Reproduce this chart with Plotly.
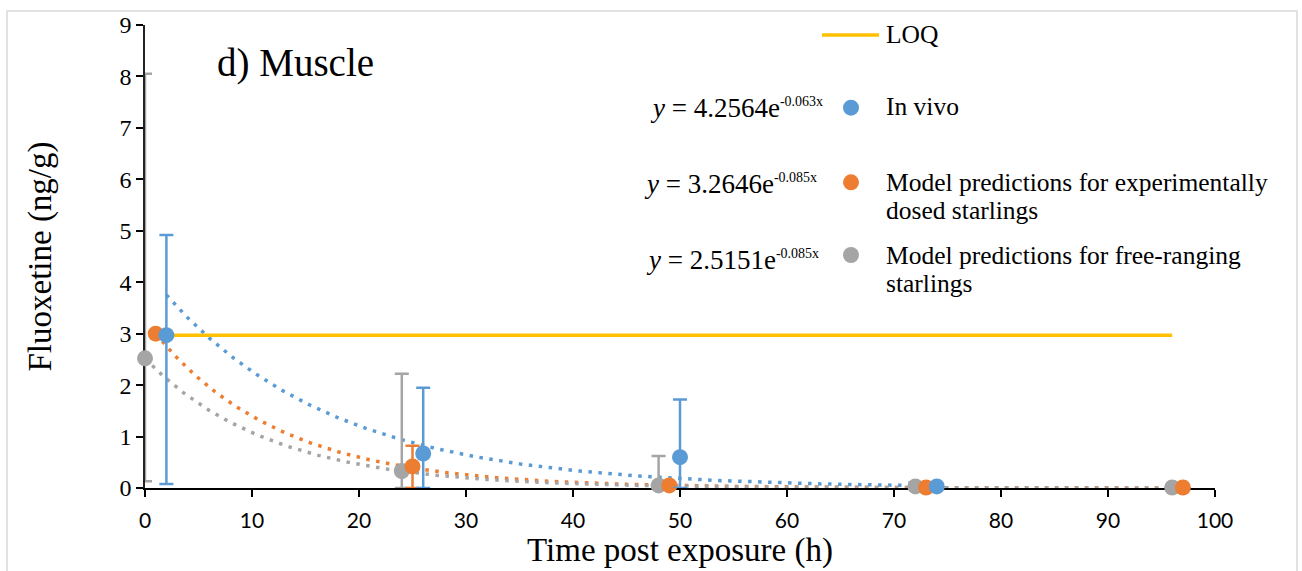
import numpy as np
import plotly.graph_objects as go

# ---------------- data ----------------
invivo_x = [2, 26, 50, 74]
invivo_y = [2.97, 0.67, 0.60, 0.03]
invivo_err_plus = [1.95, 1.28, 1.12, 0.0]
invivo_err_minus = [2.89, 0.67, 0.60, 0.0]

exp_x = [1, 25, 49, 73, 97]
exp_y = [3.00, 0.42, 0.05, 0.01, 0.01]
exp_err_plus = [0.0, 0.40, 0.06, 0.0, 0.0]
exp_err_minus = [0.0, 0.42, 0.05, 0.0, 0.0]

free_x = [0, 24, 48, 72, 96]
free_y = [2.52, 0.33, 0.05, 0.03, 0.01]
free_err_plus = [5.53, 1.89, 0.57, 0.08, 0.0]
free_err_minus = [2.39, 0.33, 0.05, 0.03, 0.0]

loq_x = [2, 96]
loq_y = [2.97, 2.97]

# exponential trendlines (coefficients as printed on chart)
fit_invivo = (4.2564, -0.063, 2, 74)
fit_exp = (3.2646, -0.085, 1, 97)
fit_free = (2.5151, -0.085, 0, 96)

x_ticks = list(range(0, 101, 10))
y_ticks = list(range(0, 10, 1))

BLUE = "#5B9BD5"
ORANGE = "#ED7D31"
GRAY = "#A5A5A5"
GOLD = "#FFC000"
SERIF = "Liberation Serif, Times New Roman, serif"
SANS = "Lato, Open Sans, sans-serif"

fig = go.Figure()


def trend(coef):
    a, b, x0, x1 = coef
    xs = np.linspace(x0, x1, 400)
    return xs, a * np.exp(b * xs)


for coef, col in [(fit_invivo, BLUE), (fit_exp, ORANGE), (fit_free, GRAY)]:
    xs, ys = trend(coef)
    fig.add_trace(go.Scatter(x=xs, y=ys, mode="lines",
                             line=dict(color=col, width=3.5, dash="3.5px,6.5px"),
                             showlegend=False, hoverinfo="skip", cliponaxis=False))

fig.add_trace(go.Scatter(x=loq_x, y=loq_y, mode="lines",
                         line=dict(color=GOLD, width=3.5), showlegend=False))


def pts(x, y, ep, em, col):
    fig.add_trace(go.Scatter(
        x=x, y=y, mode="markers",
        marker=dict(color=col, size=16, line=dict(width=0)),
        error_y=dict(type="data", array=ep, arrayminus=em, symmetric=False,
                     color=col, thickness=2.5, width=7),
        showlegend=False, cliponaxis=False))


pts(free_x, free_y, free_err_plus, free_err_minus, GRAY)
pts(exp_x, exp_y, exp_err_plus, exp_err_minus, ORANGE)
pts(invivo_x, invivo_y, invivo_err_plus, invivo_err_minus, BLUE)

# ---------------- layout ----------------
L, R, T, B = 145, 87, 23, 83
W, H = 1302, 571
pw, ph = W - L - R, H - T - B


def px(xp):
    return (xp - L) / pw


def py(yp):
    return (H - B - yp) / ph


shapes = [
    # outer chart border
    dict(type="rect", xref="paper", yref="paper", x0=px(7), x1=px(1297), y0=py(580), y1=py(9),
         line=dict(color="#D9D9D9", width=1.5), layer="below"),
    # LOQ legend line
    dict(type="line", xref="paper", yref="paper", x0=px(822), x1=px(879), y0=py(33), y1=py(33),
         line=dict(color=GOLD, width=3.5)),
]
for yy, col in [(106, BLUE), (181, ORANGE), (254, GRAY)]:
    shapes.append(dict(type="circle", xref="paper", yref="paper",
                       xsizemode="pixel", ysizemode="pixel",
                       xanchor=px(851), yanchor=py(yy), x0=-8, x1=8, y0=-8, y1=8,
                       fillcolor=col, line=dict(width=0)))

LEG = 25.5
EQ = 27


def eq(a, b):
    return (f"<i>y</i> = {a}e<sup><span style='font-size:14px'>{b}x</span></sup>")


ann = [
    dict(text="d) Muscle", x=px(215), y=py(61), xanchor="left", yanchor="middle",
         font=dict(family=SERIF, size=39, color="black")),
    dict(text="LOQ", x=px(884), y=py(33), xanchor="left", yanchor="middle",
         font=dict(family=SERIF, size=LEG, color="black")),
    dict(text="In vivo", x=px(884), y=py(105), xanchor="left", yanchor="middle",
         font=dict(family=SERIF, size=LEG, color="black")),
    dict(text="Model predictions for experimentally", x=px(884), y=py(181),
         xanchor="left", yanchor="middle", font=dict(family=SERIF, size=LEG, color="black")),
    dict(text="dosed starlings", x=px(884), y=py(209),
         xanchor="left", yanchor="middle", font=dict(family=SERIF, size=LEG, color="black")),
    dict(text="Model predictions for free-ranging", x=px(884), y=py(254),
         xanchor="left", yanchor="middle", font=dict(family=SERIF, size=LEG, color="black")),
    dict(text="starlings", x=px(884), y=py(283),
         xanchor="left", yanchor="middle", font=dict(family=SERIF, size=LEG, color="black")),
    dict(text=eq("4.2564", "-0.063"), x=px(825), y=py(106), xanchor="right",
         yanchor="middle", font=dict(family=SERIF, size=EQ, color="black")),
    dict(text=eq("3.2646", "-0.085"), x=px(819), y=py(183), xanchor="right",
         yanchor="middle", font=dict(family=SERIF, size=EQ, color="black")),
    dict(text=eq("2.5151", "-0.085"), x=px(821), y=py(259), xanchor="right",
         yanchor="middle", font=dict(family=SERIF, size=EQ, color="black")),
]
for a in ann:
    a.update(xref="paper", yref="paper", showarrow=False)

fig.update_layout(
    width=W, height=H,
    margin=dict(l=L, r=R, t=T, b=B, pad=0),
    paper_bgcolor="white", plot_bgcolor="white",
    showlegend=False,
    shapes=shapes, annotations=ann,
    xaxis=dict(range=[0, 100], tickvals=x_ticks, ticktext=[str(v) for v in x_ticks],
               showgrid=False, zeroline=False, showline=True, linecolor="black", linewidth=2,
               ticks="outside", ticklen=7, tickwidth=2, tickcolor="black",
               ticklabelstandoff=6, layer="below traces",
               tickfont=dict(family=SANS, size=21, color="black"),
               title=dict(text="Time post exposure (h)", standoff=4,
                          font=dict(family=SERIF, size=33, color="black"))),
    yaxis=dict(range=[0, 9], tickvals=y_ticks, ticktext=[str(v) for v in y_ticks],
               showgrid=False, zeroline=False, showline=True, linecolor="#222222", linewidth=1.5,
               ticks="outside", ticklen=7, tickwidth=2, tickcolor="black",
               layer="below traces",
               tickfont=dict(family=SERIF, size=24, color="black"),
               title=dict(text="Fluoxetine (ng/g)", standoff=58,
                          font=dict(family=SERIF, size=33, color="black"))),
)

fig.write_html("out.html", config={"displayModeBar": False},
               post_script="document.body.style.margin='0px';")
